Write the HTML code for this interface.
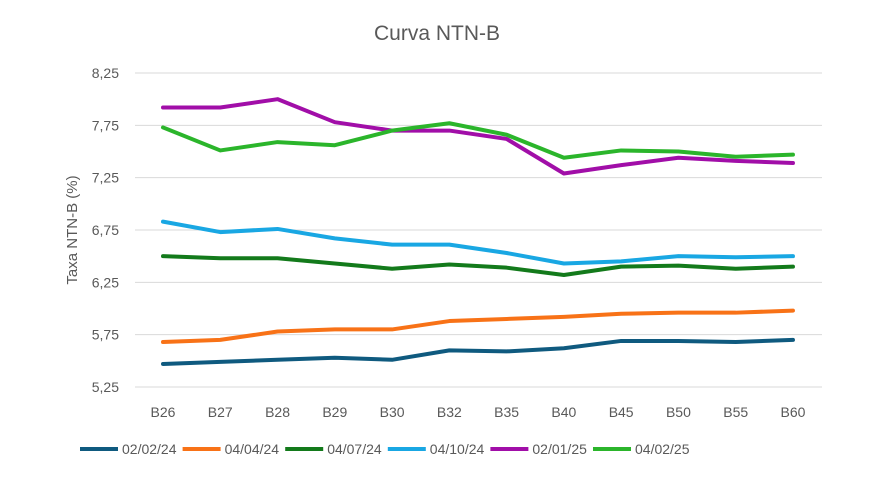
<!DOCTYPE html>
<html><head><meta charset="utf-8"><style>
body{margin:0;background:#fff;font-family:"Liberation Sans",sans-serif;}
svg text{font-family:"Liberation Sans",sans-serif;fill:#595959;}
</style></head><body>
<svg id="chart" width="895" height="492" xmlns="http://www.w3.org/2000/svg">
<text x="437" y="40" text-anchor="middle" font-size="21">Curva NTN-B</text>
<text transform="translate(77,230) rotate(-90)" text-anchor="middle" font-size="15">Taxa NTN-B (%)</text>
<g id="grid"></g><g id="series"></g><g id="legend"></g>
</svg>
<script>
const categories=["B26","B27","B28","B29","B30","B32","B35","B40","B45","B50","B55","B60"];
const yTicks=[5.25,5.75,6.25,6.75,7.25,7.75,8.25];
const yTickLabels=["5,25","5,75","6,25","6,75","7,25","7,75","8,25"];
const seriesNames=["02/02/24","04/04/24","04/07/24","04/10/24","02/01/25","04/02/25"];
const seriesColors=["#0f5a7f","#f87217","#137a1b","#19a7e3","#a10ea8","#2bb52b"];
const s1=[5.47,5.49,5.51,5.53,5.51,5.60,5.59,5.62,5.69,5.69,5.68,5.70];
const s2=[5.68,5.70,5.78,5.80,5.80,5.88,5.90,5.92,5.95,5.96,5.96,5.98];
const s3=[6.50,6.48,6.48,6.43,6.38,6.42,6.39,6.32,6.40,6.41,6.38,6.40];
const s4=[6.83,6.73,6.76,6.67,6.61,6.61,6.53,6.43,6.45,6.50,6.49,6.50];
const s5=[7.92,7.92,8.00,7.78,7.70,7.70,7.62,7.29,7.37,7.44,7.41,7.39];
const s6=[7.73,7.51,7.59,7.56,7.70,7.77,7.66,7.44,7.51,7.50,7.45,7.47];
const allSeries=[s1,s2,s3,s4,s5,s6];
const NS="http://www.w3.org/2000/svg";
const x0=163,dx=57.27,yTop=73,yBot=387,vMin=5.25,vMax=8.25;
const X=i=>x0+i*dx;
const Y=v=>yBot-(v-vMin)/(vMax-vMin)*(yBot-yTop);
function mk(t,a,p){const e=document.createElementNS(NS,t);for(const k in a)e.setAttribute(k,a[k]);p.appendChild(e);return e;}
const grid=document.getElementById('grid');
yTicks.forEach((v,i)=>{
 const l=mk('line',{x1:135,x2:822,y1:Y(v),y2:Y(v),stroke:'#d9d9d9','stroke-width':1},grid);
 
 
 const t=mk('text',{x:119,y:Y(v)+5,'text-anchor':'end','font-size':14},grid);
 t.textContent=yTickLabels[i];
 
 
});
categories.forEach((c,i)=>{
 const t=mk('text',{x:X(i),y:417,'text-anchor':'middle','font-size':14},grid);
 t.textContent=c;
 
 
});
const sg=document.getElementById('series');
allSeries.forEach((s,k)=>{
 const p=mk('polyline',{points:s.map((v,i)=>X(i)+','+Y(v)).join(' '),fill:'none',stroke:seriesColors[k],'stroke-width':4,'stroke-linejoin':'round','stroke-linecap':'round'},sg);
 
 
});
const lg=document.getElementById('legend');
seriesNames.forEach((n,k)=>{
 const tx=122+k*102.6;
 const l=mk('line',{x1:tx-42,x2:tx-4,y1:449,y2:449,stroke:seriesColors[k],'stroke-width':4},lg);
 
 
 const t=mk('text',{x:tx,y:454,'font-size':14},lg);
 t.textContent=n;
 
 
});
</script>
</body></html>
